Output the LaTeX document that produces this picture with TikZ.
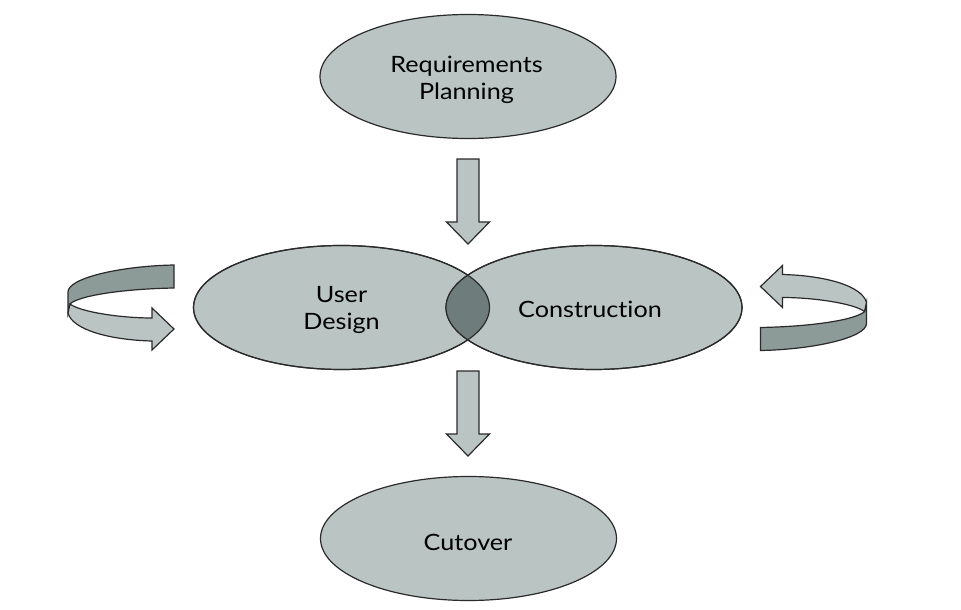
\documentclass[tikz,border=0pt]{standalone}
\usepackage{fontspec}
\setmainfont{Lato}[FakeStretch=1.12, Ligatures={NoCommon}]
\usetikzlibrary{shapes.geometric}
\definecolor{fillA}{HTML}{BAC5C3}
\definecolor{fillD}{HTML}{6E7D7B}
\definecolor{ribD}{HTML}{8C9A98}
\definecolor{edgec}{HTML}{2A2A2A}
\tikzset{
  phase/.style={ellipse, fill=fillA, draw=edgec, line width=1.2pt,
    minimum width=296pt, minimum height=124pt, inner sep=0pt},
  label/.style={align=center, inner sep=0pt, font=\fontsize{22.5}{27}\selectfont},
  outline/.style={draw=edgec, line width=1.2pt},
  blockarrow/.style={fill=fillA, draw=edgec, line width=1.2pt, line join=miter},
  pics/downarrow/.style={code={
    \draw[blockarrow] (-11,0) -- (11,0) -- (11,63) -- (21.5,63) -- (0,85)
      -- (-21.5,63) -- (-11,63) -- cycle;}},
  pics/loopback/.style={code={
    \draw[blockarrow, fill=ribD] (53.5,-42.5) -- (53.5,-19.5)
      .. controls (0,-18.5) and (-42.5,-11.5) .. (-50.5,-3.5)
      -- (-52.5,5.5) -- (-52.5,-15.5)
      .. controls (-52.5,-29.5) and (0,-41.5) .. (53.5,-42.5) -- cycle;
    \draw[blockarrow] (-50.5,-3.5) .. controls (-40,4.5) and (0,10.5) .. (31.5,10.5)
      -- (31.5,0.5) -- (53.5,21.5) -- (31.5,42.5) -- (31.5,33.5)
      .. controls (-10,32.5) and (-48,22.5) .. (-52.5,5.5) -- cycle;}}
}
\begin{document}
\begin{tikzpicture}[x=1pt,y=-1pt]
\useasboundingbox[fill=white] (0,0) rectangle (961,610);
\node[phase] (req) at (468,76.5) {};
\node[phase] (ud) at (341.5,307.5) {};
\node[phase] (con) at (594,307.5) {};
\node[phase] (cut) at (468.5,538.5) {};
\begin{scope}
  \clip (ud.center) ellipse [x radius=148pt, y radius=62pt];
  \fill[fillD] (con.center) ellipse [x radius=148pt, y radius=62pt];
\end{scope}
\draw[outline] (ud.center) ellipse [x radius=148pt, y radius=62pt];
\draw[outline] (con.center) ellipse [x radius=148pt, y radius=62pt];
\node[label] (reqt) at (466.5,79.5) {Requirements\\Planning};
\node[label] (udt) at (341.5,310) {User\\Design};
\node[label] (cont) at (590,309) {Construction};
\node[label] (cutt) at (468,542) {Cutover};
\pic at (468,159) {downarrow};
\pic at (468,371) {downarrow};
\pic at (120.5,307.5) {loopback};
\pic[rotate=180] at (814,308) {loopback};
\end{tikzpicture}
\end{document}
